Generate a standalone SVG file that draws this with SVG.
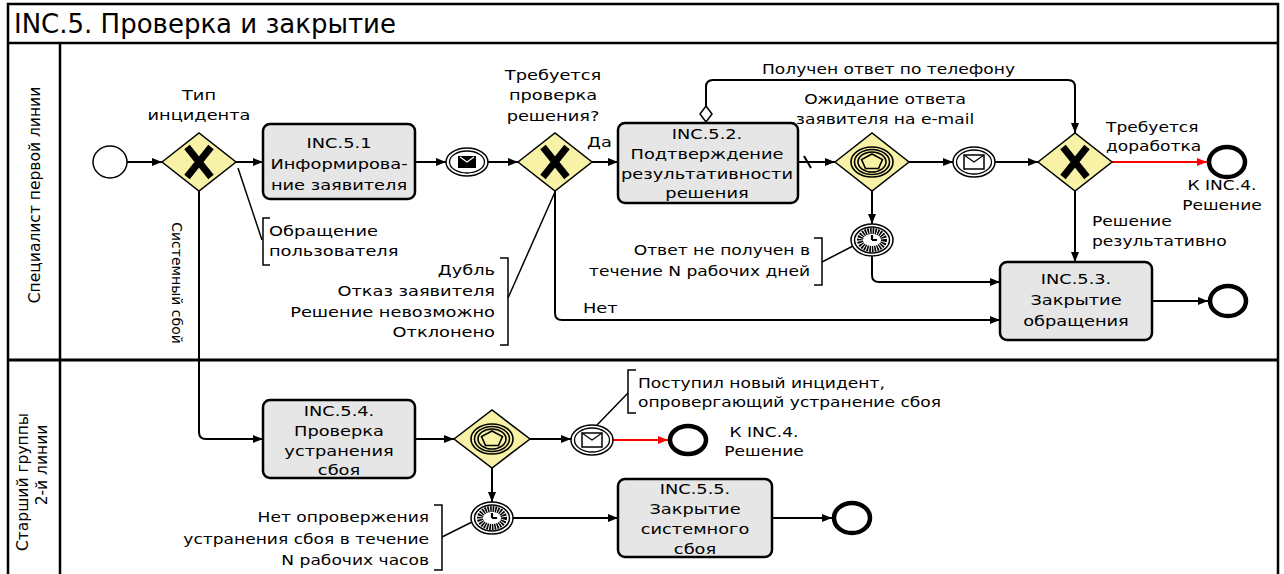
<svg xmlns="http://www.w3.org/2000/svg" width="1284" height="574" viewBox="0 0 1284 574">
<style>
.t{font-family:"DejaVu Sans","Noto Sans",sans-serif;font-size:14px;fill:#000}
.m{text-anchor:middle}
.e{text-anchor:end}
.ln{fill:none;stroke:#000;stroke-width:2.5}
.task{fill:#e6e6e6;stroke:#000;stroke-width:2.5}
.gw{fill:#f7f2a6;stroke:#000;stroke-width:1.5}
.flow{fill:none;stroke:#000;stroke-width:2}
.red{fill:none;stroke:#f00;stroke-width:2}
.ann{fill:none;stroke:#000;stroke-width:1.5}
.ev{fill:#fff;stroke:#000;stroke-width:1.5}
.end{fill:#fff;stroke:#000;stroke-width:4.5}
</style>
<defs>
<marker id="ar" markerUnits="userSpaceOnUse" markerWidth="10" markerHeight="8" refX="10" refY="4" orient="auto"><path d="M0,0 L10,4 L0,8 z" fill="#000"/></marker>
<marker id="arr" markerUnits="userSpaceOnUse" markerWidth="10" markerHeight="8" refX="10" refY="4" orient="auto"><path d="M0,0 L10,4 L0,8 z" fill="#f00"/></marker>
<g id="xmark"><path d="M-12,-15 L12,15 M12,-15 L-12,15" stroke="#000" stroke-width="7" fill="none"/></g>
<g id="egw"><ellipse rx="21" ry="15" fill="none" stroke="#000" stroke-width="1.6"/><ellipse rx="17.5" ry="12.5" fill="none" stroke="#000" stroke-width="1.6"/><ellipse rx="14" ry="10" fill="none" stroke="#000" stroke-width="1.6"/><polygon points="0,-8 10.5,-2.5 6.5,6.5 -6.5,6.5 -10.5,-2.5" fill="none" stroke="#000" stroke-width="1.6"/></g>
<g id="timer"><ellipse rx="21" ry="16" class="ev"/><ellipse rx="17.5" ry="13" fill="none" stroke="#000" stroke-width="1.5"/><ellipse rx="12" ry="9" fill="#fff" stroke="#000" stroke-width="6" stroke-dasharray="1.6 0.9"/><path d="M0,0 V-5 M0,0 H5" stroke="#000" stroke-width="2.2" fill="none"/></g>
<g id="msgc"><ellipse rx="21" ry="15" class="ev"/><ellipse rx="17.5" ry="12" fill="none" stroke="#000" stroke-width="1.3"/><rect x="-10" y="-7" width="20" height="14" fill="#fff" stroke="#000" stroke-width="1.5"/><path d="M-10,-7 L0,0 L10,-7" fill="none" stroke="#000" stroke-width="1.2"/></g>
<g id="msgt"><ellipse rx="21" ry="14" class="ev"/><ellipse rx="17.5" ry="11" fill="none" stroke="#000" stroke-width="1.3"/><rect x="-9" y="-6" width="18" height="12" fill="#000"/><path d="M-7,-5 L0,0 L7,-5" fill="none" stroke="#fff" stroke-width="1.2"/></g>
</defs>

<g id="frame">
<rect x="8" y="4" width="1270" height="590" class="ln"/>
<line x1="8" y1="43" x2="1278" y2="43" class="ln"/>
<line x1="60" y1="43" x2="60" y2="574" class="ln"/>
<line x1="8" y1="360" x2="1278" y2="360" stroke="#000" stroke-width="3"/>
<text class="t" x="14" y="33" style="font-size:26px">INC.5. Проверка и закрытие</text>
<text class="t m" transform="translate(40,195) rotate(-90)" style="font-size:15.5px">Специалист первой линии</text>
<text class="t m" transform="translate(28,482) rotate(-90)" style="font-size:15.5px">Старший группы</text>
<text class="t m" transform="translate(47,465) rotate(-90)" style="font-size:15.5px">2-й линии</text>
</g>

<g id="connectors">
<path class="flow" d="M127,162 H162" marker-end="url(#ar)"/>
<path class="flow" d="M236,162 H263" marker-end="url(#ar)"/>
<path class="flow" d="M415,162 H446" marker-end="url(#ar)"/>
<path class="flow" d="M488,162 H518" marker-end="url(#ar)"/>
<path class="flow" d="M592,162 H618" marker-end="url(#ar)"/>
<path class="flow" d="M706,107 V87 Q706,80 713,80 H1068 Q1075,80 1075,87 V133" marker-end="url(#ar)"/>
<polygon points="706,106 712,114 706,122 700,114" fill="#fff" stroke="#000" stroke-width="1.5"/>
<path class="flow" d="M798,162 H835" marker-end="url(#ar)"/>
<path class="flow" d="M804,156 L811,168"/>
<path class="flow" d="M909,162 H953" marker-end="url(#ar)"/>
<path class="flow" d="M995,162 H1038" marker-end="url(#ar)"/>
<path class="red" d="M1112,162 H1207" marker-end="url(#arr)"/>
<path class="flow" d="M1075,191 V262" marker-end="url(#ar)"/>
<path class="flow" d="M872,191 V224" marker-end="url(#ar)"/>
<path class="flow" d="M872,256 V275 Q872,282 879,282 H1000" marker-end="url(#ar)"/>
<path class="flow" d="M555,191 V313 Q555,320 562,320 H1000" marker-end="url(#ar)"/>
<path class="flow" d="M1152,301 H1208" marker-end="url(#ar)"/>
<path class="flow" d="M199,191 V432 Q199,439 206,439 H263" marker-end="url(#ar)"/>
<path class="flow" d="M415,439 H454" marker-end="url(#ar)"/>
<path class="flow" d="M530,439 H571" marker-end="url(#ar)"/>
<path class="red" d="M613,440 H668" marker-end="url(#arr)"/>
<path class="flow" d="M492,468 V502" marker-end="url(#ar)"/>
<path class="flow" d="M513,518 H618" marker-end="url(#ar)"/>
<path class="flow" d="M772,518 H832" marker-end="url(#ar)"/>
<path class="ann" d="M238,168 L262,240"/>
<path class="ann" d="M508,298 L555,192"/>
<path class="ann" d="M822,262 L853,246"/>
<path class="ann" d="M628,393 L597,425"/>
<path class="ann" d="M442,537 L472,522"/>
</g>

<g id="start"><ellipse cx="110" cy="162" rx="17" ry="16" class="ev"/></g>

<g id="gw-type">
<polygon points="162,162 199,133 236,162 199,191" class="gw"/>
<use href="#xmark" x="199" y="162"/>
<text class="t m" transform="translate(199,100) scale(1.27,1)"><tspan x="0">Тип</tspan><tspan x="0" dy="20">инцидента</tspan></text>
</g>

<g id="task-5-1">
<rect x="263" y="124" width="152" height="75" rx="7" class="task"/>
<text class="t m" transform="translate(339,148) scale(1.27,1)"><tspan x="0">INC.5.1</tspan><tspan x="0" dy="21">Информирова-</tspan><tspan x="0" dy="21">ние заявителя</tspan></text>
</g>

<g id="msg-throw"><use href="#msgt" x="467" y="162"/></g>

<g id="gw-check">
<polygon points="518,162 555,133 592,162 555,191" class="gw"/>
<use href="#xmark" x="555" y="162"/>
<text class="t m" transform="translate(553,80) scale(1.27,1)"><tspan x="0">Требуется</tspan><tspan x="0" dy="20">проверка</tspan><tspan x="0" dy="21">решения?</tspan></text>
<text class="t" transform="translate(587,147) scale(1.27,1)">Да</text>
<text class="t" transform="translate(583,313) scale(1.27,1)">Нет</text>
</g>

<g id="ann-gw-type">
<path class="ann" d="M270,218 H263 V265 H270"/>
<text class="t" transform="translate(269,236) scale(1.27,1)"><tspan x="0">Обращение</tspan><tspan x="0" dy="20">пользователя</tspan></text>
</g>

<g id="ann-gw-check">
<path class="ann" d="M500,258 H508 V345 H500"/>
<text class="t e" transform="translate(495,275) scale(1.27,1)"><tspan x="0">Дубль</tspan><tspan x="0" dy="21">Отказ заявителя</tspan><tspan x="0" dy="21">Решение невозможно</tspan><tspan x="0" dy="20">Отклонено</tspan></text>
</g>

<g id="sys-label">
<text class="t m" transform="translate(172,283) rotate(90)" style="font-size:14px">Системный сбой</text>
</g>

<g id="task-5-2">
<rect x="618" y="123" width="180" height="80" rx="7" class="task"/>
<text class="t m" transform="translate(707,139) scale(1.27,1)"><tspan x="0">INC.5.2.</tspan><tspan x="0" dy="20">Подтверждение</tspan><tspan x="0" dy="20">результативности</tspan><tspan x="0" dy="19">решения</tspan></text>
</g>

<g id="phone-label">
<text class="t" transform="translate(762,74) scale(1.22,1)">Получен ответ по телефону</text>
</g>

<g id="egw-email">
<polygon points="835,162 872,133 909,162 872,191" class="gw"/>
<use href="#egw" x="872" y="162"/>
<text class="t m" transform="translate(885,104) scale(1.22,1)"><tspan x="0">Ожидание ответа</tspan><tspan x="0" dy="20">заявителя на e-mail</tspan></text>
</g>

<g id="msg-catch-1"><use href="#msgc" x="974" y="162"/></g>

<g id="gw-result">
<polygon points="1038,162 1075,133 1112,162 1075,191" class="gw"/>
<use href="#xmark" x="1075" y="162"/>
<text class="t" transform="translate(1106,132) scale(1.22,1)"><tspan x="0">Требуется</tspan><tspan x="0" dy="19">доработка</tspan></text>
<text class="t" transform="translate(1092,226) scale(1.22,1)"><tspan x="0">Решение</tspan><tspan x="0" dy="20">результативно</tspan></text>
</g>

<g id="end-rework">
<ellipse cx="1227" cy="162" rx="18" ry="15" class="end"/>
<text class="t m" transform="translate(1222,190) scale(1.22,1)"><tspan x="0">К INC.4.</tspan><tspan x="0" dy="20">Решение</tspan></text>
</g>

<g id="timer-1">
<use href="#timer" x="872" y="240"/>
</g>

<g id="ann-timer-1">
<path class="ann" d="M814,238 H822 V285 H814"/>
<text class="t e" transform="translate(810,255) scale(1.22,1)"><tspan x="0">Ответ не получен в</tspan><tspan x="0" dy="21">течение N рабочих дней</tspan></text>
</g>

<g id="task-5-3">
<rect x="1000" y="262" width="152" height="78" rx="7" class="task"/>
<text class="t m" transform="translate(1076,284) scale(1.27,1)"><tspan x="0">INC.5.3.</tspan><tspan x="0" dy="21">Закрытие</tspan><tspan x="0" dy="21">обращения</tspan></text>
</g>

<g id="end-close"><ellipse cx="1228" cy="301" rx="18" ry="15" class="end"/></g>

<g id="task-5-4">
<rect x="263" y="400" width="152" height="78" rx="7" class="task"/>
<text class="t m" transform="translate(339,416) scale(1.27,1)"><tspan x="0">INC.5.4.</tspan><tspan x="0" dy="20">Проверка</tspan><tspan x="0" dy="20">устранения</tspan><tspan x="0" dy="19">сбоя</tspan></text>
</g>

<g id="egw-2">
<polygon points="454,439 492,410 530,439 492,468" class="gw"/>
<use href="#egw" x="492" y="439"/>
</g>

<g id="msg-catch-2"><use href="#msgc" x="592" y="440"/></g>

<g id="ann-msg-2">
<path class="ann" d="M636,370 H628 V413 H636"/>
<text class="t" transform="translate(638,388) scale(1.22,1)"><tspan x="0">Поступил новый инцидент,</tspan><tspan x="0" dy="19">опровергающий устранение сбоя</tspan></text>
</g>

<g id="end-reopen">
<ellipse cx="688" cy="440" rx="18" ry="14" class="end"/>
<text class="t m" transform="translate(764,437) scale(1.22,1)"><tspan x="0">К INC.4.</tspan><tspan x="0" dy="19">Решение</tspan></text>
</g>

<g id="timer-2"><use href="#timer" x="492" y="518"/></g>

<g id="ann-timer-2">
<path class="ann" d="M434,505 H442 V570 H434"/>
<text class="t e" transform="translate(429,522) scale(1.22,1)"><tspan x="0">Нет опровержения</tspan><tspan x="0" dy="22">устранения сбоя в течение</tspan><tspan x="0" dy="21">N рабочих часов</tspan></text>
</g>

<g id="task-5-5">
<rect x="618" y="479" width="154" height="78" rx="7" class="task"/>
<text class="t m" transform="translate(695,494) scale(1.27,1)"><tspan x="0">INC.5.5.</tspan><tspan x="0" dy="20">Закрытие</tspan><tspan x="0" dy="20">системного</tspan><tspan x="0" dy="20">сбоя</tspan></text>
</g>

<g id="end-sys"><ellipse cx="852" cy="518" rx="18" ry="15" class="end"/></g>
</svg>
